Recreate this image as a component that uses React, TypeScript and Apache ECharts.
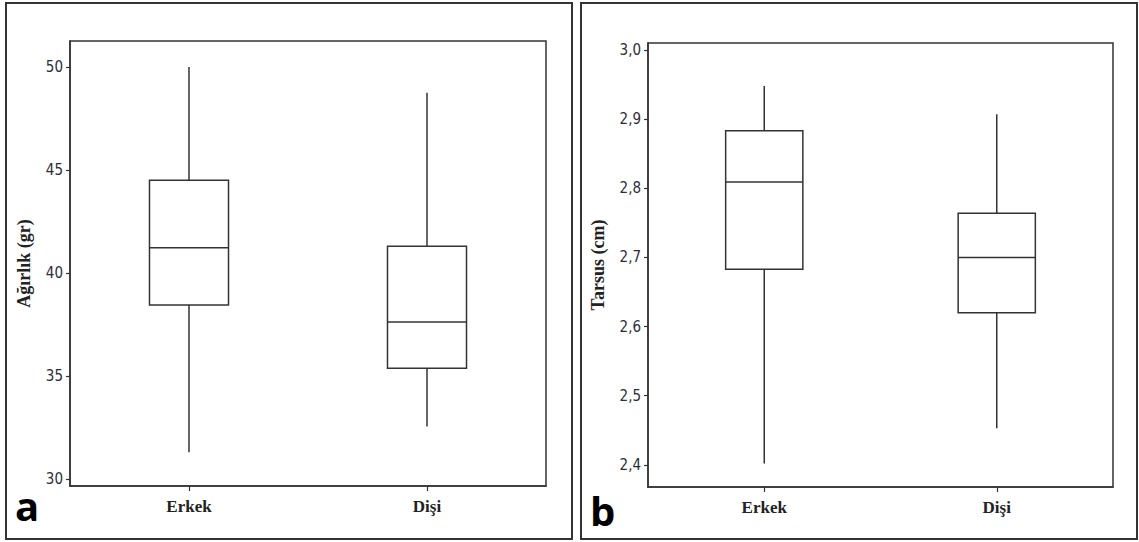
import React, { useEffect, useRef } from "react";
import * as echarts from "echarts";

// ---- data ----
const categories = ["Erkek", "Dişi"];
// [min, Q1, median, Q3, max]
const weightBoxes = [
  [31.3, 38.45, 41.23, 44.5, 50.0],
  [32.55, 35.37, 37.62, 41.3, 48.75],
];
const tarsusBoxes = [
  [2.402, 2.683, 2.809, 2.883, 2.948],
  [2.453, 2.62, 2.7, 2.764, 2.907],
];
const weightTicks = [30, 35, 40, 45, 50];
const tarsusTicks = [2.4, 2.5, 2.6, 2.7, 2.8, 2.9, 3.0];
const weightTitle = "Ağırlık (gr)";
const tarsusTitle = "Tarsus (cm)";
const panelLetters = ["a", "b"];

const INK = "#333333";
const LABEL_FONT = "'Liberation Sans Narrow', 'DejaVu Sans Condensed', 'Roboto', sans-serif";
const SERIF = "'Liberation Serif', 'DejaVu Serif', serif";

function renderBox(params: any, api: any) {
  const idx = api.value(0);
  const pMin = api.coord([idx, api.value(1)]);
  const pQ1 = api.coord([idx, api.value(2)]);
  const pMed = api.coord([idx, api.value(3)]);
  const pQ3 = api.coord([idx, api.value(4)]);
  const pMax = api.coord([idx, api.value(5)]);
  const band = api.size([1, 0])[0];
  const half = band * 0.166;
  const cx = pMed[0];
  const st = { stroke: INK, lineWidth: 1.5, fill: "none" };
  return {
    type: "group",
    children: [
      { type: "line", shape: { x1: cx, y1: pMax[1], x2: cx, y2: pQ3[1] }, style: st },
      { type: "line", shape: { x1: cx, y1: pQ1[1], x2: cx, y2: pMin[1] }, style: st },
      {
        type: "rect",
        shape: { x: cx - half, y: pQ3[1], width: half * 2, height: pQ1[1] - pQ3[1] },
        style: { stroke: INK, lineWidth: 1.5, fill: "#fff" },
      },
      { type: "line", shape: { x1: cx - half, y1: pMed[1], x2: cx + half, y2: pMed[1] }, style: st },
    ],
  };
}

function toCustom(boxes: number[][]) {
  return boxes.map((b, i) => [i, ...b]);
}

export default function App() {
  const ref = useRef<HTMLDivElement>(null);
  useEffect(() => {
    if (!ref.current) return;
    const chart = echarts.init(ref.current, undefined, { renderer: "svg" });
    const yLabel = (fmt: (v: number) => string, ticks: number[]) => ({
      fontFamily: LABEL_FONT,
      fontSize: 15,
      color: "#2d2d3a",
      margin: 7,
      customValues: ticks,
      formatter: (v: number) => fmt(v),
    });
    const xAxisBase = (gi: number) => ({
      type: "category",
      gridIndex: gi,
      data: categories,
      boundaryGap: true,
      axisLine: { show: true, lineStyle: { color: INK, width: 1.5 } },
      axisTick: { show: true, alignWithLabel: true, length: 5, lineStyle: { color: INK, width: 1.2 } },
      axisLabel: { fontFamily: SERIF, fontWeight: "bold", fontSize: 17, color: "#222", margin: 12 },
      splitLine: { show: false },
    });
    const nameStyle = { fontFamily: SERIF, fontWeight: "bold", fontSize: 18, color: "#222" };
    chart.setOption({
      animation: false,
      backgroundColor: "#fff",
      grid: [
        { left: 70, top: 41, width: 476, height: 445, show: true, borderColor: INK, borderWidth: 1.5, backgroundColor: "transparent" },
        { left: 648, top: 43, width: 465, height: 444, show: true, borderColor: INK, borderWidth: 1.5, backgroundColor: "transparent" },
      ],
      xAxis: [xAxisBase(0), xAxisBase(1)],
      yAxis: [
        {
          type: "value",
          gridIndex: 0,
          min: 29.66,
          max: 51.26,
          name: weightTitle,
          nameLocation: "middle",
          nameGap: 37,
          nameTextStyle: nameStyle,
          axisLine: { show: true, lineStyle: { color: INK, width: 1.5 } },
          axisTick: { show: true, length: 4, customValues: weightTicks, lineStyle: { color: INK, width: 1.2 } },
          axisLabel: yLabel((v) => String(v), weightTicks),
          splitLine: { show: false },
        },
        {
          type: "value",
          gridIndex: 1,
          min: 2.368,
          max: 3.01,
          name: tarsusTitle,
          nameLocation: "middle",
          nameGap: 41,
          nameTextStyle: nameStyle,
          axisLine: { show: true, lineStyle: { color: INK, width: 1.5 } },
          axisTick: { show: true, length: 4, customValues: tarsusTicks, lineStyle: { color: INK, width: 1.2 } },
          axisLabel: yLabel((v) => v.toFixed(1).replace(".", ","), tarsusTicks),
          splitLine: { show: false },
        },
      ],
      series: [
        {
          type: "custom",
          xAxisIndex: 0,
          yAxisIndex: 0,
          renderItem: renderBox,
          encode: { x: 0, y: [1, 2, 3, 4, 5] },
          data: toCustom(weightBoxes),
        },
        {
          type: "custom",
          xAxisIndex: 1,
          yAxisIndex: 1,
          renderItem: renderBox,
          encode: { x: 0, y: [1, 2, 3, 4, 5] },
          data: toCustom(tarsusBoxes),
        },
      ],
      graphic: [
        { type: "rect", shape: { x: 6, y: 3, width: 566, height: 536 }, style: { fill: "none", stroke: INK, lineWidth: 2 }, silent: true },
        { type: "rect", shape: { x: 581, y: 3, width: 556, height: 536 }, style: { fill: "none", stroke: INK, lineWidth: 2 }, silent: true },
        {
          type: "text",
          x: 15,
          y: 505,
          style: { text: panelLetters[0], font: "bold 40px 'Open Sans', 'Noto Sans', sans-serif", fill: "#000", verticalAlign: "middle" },
        },
        {
          type: "text",
          x: 590,
          y: 510,
          style: { text: panelLetters[1], font: "bold 40px 'Open Sans', 'Noto Sans', sans-serif", fill: "#000", verticalAlign: "middle" },
        },
      ],
    });
    return () => chart.dispose();
  }, []);
  return (
    <div
      ref={ref}
      style={{ position: "fixed", left: 0, top: 0, width: 1139, height: 542, background: "#fff" }}
    />
  );
}
